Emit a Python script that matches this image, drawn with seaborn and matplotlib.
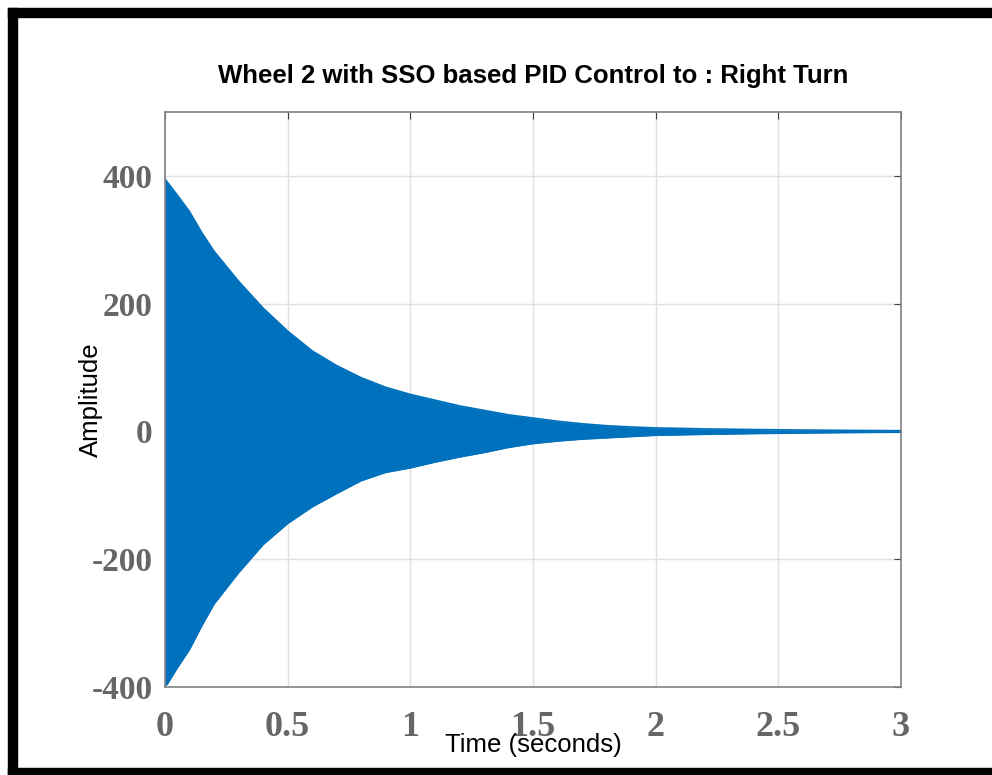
import numpy as np
import pandas as pd
import seaborn as sns
import matplotlib.pyplot as plt
from matplotlib.patches import Rectangle

# envelope of the response
time_s = [0, 0.01, 0.05, 0.1, 0.15, 0.2, 0.3, 0.4, 0.5, 0.6, 0.7, 0.8, 0.9,
          1.0, 1.1, 1.2, 1.3, 1.4, 1.5, 1.6, 1.7, 1.8, 1.9, 2.0, 2.2, 2.4,
          2.6, 2.8, 3.0]
upper_amp = [395, 390, 370, 344, 311, 282, 235, 193, 157, 126, 103, 84, 69,
             58, 49, 40, 33, 26, 21, 16, 12, 9, 7, 5.5, 4, 3, 2.2, 1.6, 1.2]
lower_amp = [-398, -395, -370, -341, -304, -270, -221, -177, -144, -118, -97,
             -77, -64, -57, -48, -40, -33, -25, -19, -15, -12, -10, -8, -6,
             -4.5, -3.3, -2.4, -1.7, -1.2]

x_ticks = [0, 0.5, 1, 1.5, 2, 2.5, 3]
x_labels = ['0', '0.5', '1', '1.5', '2', '2.5', '3']
y_ticks = [-400, -200, 0, 200, 400]
y_labels = ['-400', '-200', '0', '200', '400']

df = pd.DataFrame({'t': time_s, 'hi': upper_amp, 'lo': lower_amp})

sns.set_style('white')
plt.rcParams['font.family'] = ['Liberation Sans', 'DejaVu Sans']

fig = plt.figure(figsize=(9.92, 7.75), dpi=100)
ax = fig.add_axes([165 / 992, 88 / 775, 736 / 992, 575 / 775])

blue = '#0072BD'
ax.fill_between(df['t'], df['lo'], df['hi'], color=blue, linewidth=0)
sns.lineplot(data=df, x='t', y='hi', color=blue, linewidth=1.2, ax=ax)
sns.lineplot(data=df, x='t', y='lo', color=blue, linewidth=1.2, ax=ax)

ax.set_xlim(0, 3)
ax.set_ylim(-400, 500)
ax.set_xticks(x_ticks)
ax.set_xticklabels(x_labels)
ax.set_yticks(y_ticks)
ax.set_yticklabels(y_labels)
ax.grid(True, color='#e0e0e0', linewidth=1)
ax.set_axisbelow(True)
for s in ax.spines.values():
    s.set_color('#808080')
    s.set_linewidth(1.2)
    s.set_visible(True)

ax.tick_params(axis='both', direction='in', length=5, color='#404040',
               top=True, right=True)
ax.tick_params(axis='y', pad=9, labelsize=24)
ax.tick_params(axis='x', pad=17, labelsize=26)
for lab in ax.get_xticklabels() + ax.get_yticklabels():
    lab.set_fontfamily('Liberation Serif')
    lab.set_fontweight('bold')
    lab.set_color('#666666')

ax.set_xlabel('Time (seconds)', fontsize=18.5, color='black')
ax.xaxis.set_label_coords(0.5, -0.101)
ax.xaxis.label.set_va('center')
ax.set_ylabel('Amplitude', fontsize=18.5, color='black')
ax.yaxis.set_label_coords(-0.1005, 0.5)
ax.yaxis.label.set_va('center')

ax.text(0.5, 1 + 36 / 575, 'Wheel 2 with SSO based PID Control to : Right Turn',
        transform=ax.transAxes, ha='center', va='center',
        fontsize=18.5, fontweight='bold', color='black')

# thick black frame around the picture (right edge cut off)
for (x0, y0, w, h) in [(8, 758, 984, 9), (8, 0, 9, 767), (8, 0, 984, 7)]:
    fig.patches.append(Rectangle((x0 / 992, y0 / 775), w / 992, h / 775,
                                 transform=fig.transFigure, color='black'))

fig.savefig('out.png', dpi=100)
